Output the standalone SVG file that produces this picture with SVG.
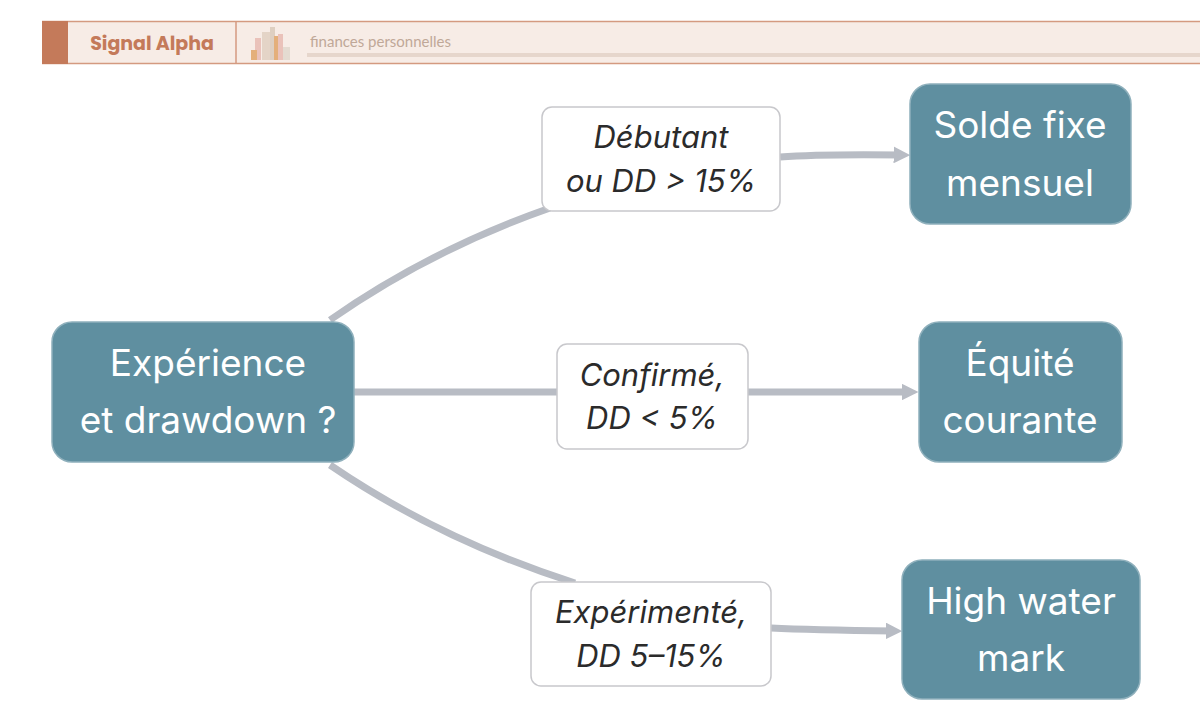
<svg xmlns="http://www.w3.org/2000/svg" width="1200" height="721" viewBox="0 0 1200 721">
<style>
.n rect{fill:#5f8fa0;stroke:#8fb0bc;stroke-width:1.5}
.n text{fill:#fff;font-family:Inter,"Noto Sans",sans-serif;font-size:37px;text-anchor:middle}
.l rect{fill:#fff;stroke:#c8c8cc;stroke-width:1.5}
.l text{fill:#2b2b2b;font-family:Inter,"Noto Sans",sans-serif;font-size:31px;font-style:italic;text-anchor:middle}
.c path{fill:none;stroke:#b8bcc4;stroke-width:7}
</style>
<defs><marker id="a" markerWidth="2.4" markerHeight="2.4" refX="1.2" refY="1.2" orient="auto" markerUnits="strokeWidth"><path d="M0,0 L2.4,1.2 L0,2.4 Z" fill="#b8bcc4"/></marker></defs>
<rect width="1200" height="721" fill="#fff"/>
<g id="header">
<rect x="42" y="21" width="1158" height="43" fill="#f7ece6"/>
<line x1="42" y1="21.5" x2="1200" y2="21.5" stroke="#d49a80" stroke-width="1.5"/>
<line x1="42" y1="63.5" x2="1200" y2="63.5" stroke="#d49a80" stroke-width="1.5"/>
<rect x="42" y="21" width="26" height="43" fill="#c47a5a"/>
<line x1="236" y1="21" x2="236" y2="64" stroke="#d49a80" stroke-width="1.5"/>
<text x="152" y="50" font-family="Poppins,Lato,sans-serif" font-weight="bold" font-size="19" fill="#c47a5a" text-anchor="middle">Signal Alpha</text>
<g opacity="0.8">
<rect x="255" y="38" width="6" height="22" fill="#e8b8b0"/>
<rect x="262" y="32" width="8" height="28" fill="#e0cfc0"/>
<rect x="270" y="27" width="5" height="33" fill="#d8c8b8"/>
<rect x="274" y="36" width="6" height="24" fill="#e0a060"/>
<rect x="278" y="34" width="5" height="26" fill="#e8b8b0"/>
<rect x="283" y="47" width="7" height="13" fill="#e0d8cc"/>
<rect x="251" y="50" width="6" height="10" fill="#e0a060"/>
</g>
<text x="310" y="47" font-family="Lato,sans-serif" font-size="15" fill="#c0a898">finances personnelles</text>
<rect x="307" y="53" width="893" height="4" fill="#e6d6cc"/>
</g>
<g id="connectors" class="c">
<path d="M330,320 Q430,250 550,208"/>
<path d="M780,157 Q820,154 902,155" marker-end="url(#a)"/>
<path d="M354,392 L557,392"/>
<path d="M748,392 L910,392" marker-end="url(#a)"/>
<path d="M330,465 Q440,540 575,583"/>
<path d="M771,628 Q810,630 894,631" marker-end="url(#a)"/>
</g>
<g id="start" class="n"><rect x="52" y="322" width="302" height="140" rx="20"/><text x="208" y="376">Expérience</text><text x="208" y="433">et drawdown ?</text></g>
<g id="lbl1" class="l"><rect x="542" y="107" width="238" height="104" rx="10"/><text x="661" y="148">Débutant</text><text x="661" y="192">ou DD &gt; 15%</text></g>
<g id="t1" class="n"><rect x="910" y="84" width="221" height="140" rx="20"/><text x="1020" y="138">Solde fixe</text><text x="1020" y="196">mensuel</text></g>
<g id="lbl2" class="l"><rect x="557" y="344" width="191" height="105" rx="10"/><text x="652" y="386">Confirmé,</text><text x="652" y="429">DD &lt; 5%</text></g>
<g id="t2" class="n"><rect x="919" y="322" width="203" height="140" rx="20"/><text x="1020" y="376">Équité</text><text x="1020" y="433">courante</text></g>
<g id="lbl3" class="l"><rect x="531" y="582" width="240" height="104" rx="10"/><text x="651" y="623">Expérimenté,</text><text x="651" y="667">DD 5–15%</text></g>
<g id="t3" class="n"><rect x="902" y="560" width="238" height="139" rx="20"/><text x="1021" y="614">High water</text><text x="1021" y="671">mark</text></g>
</svg>
